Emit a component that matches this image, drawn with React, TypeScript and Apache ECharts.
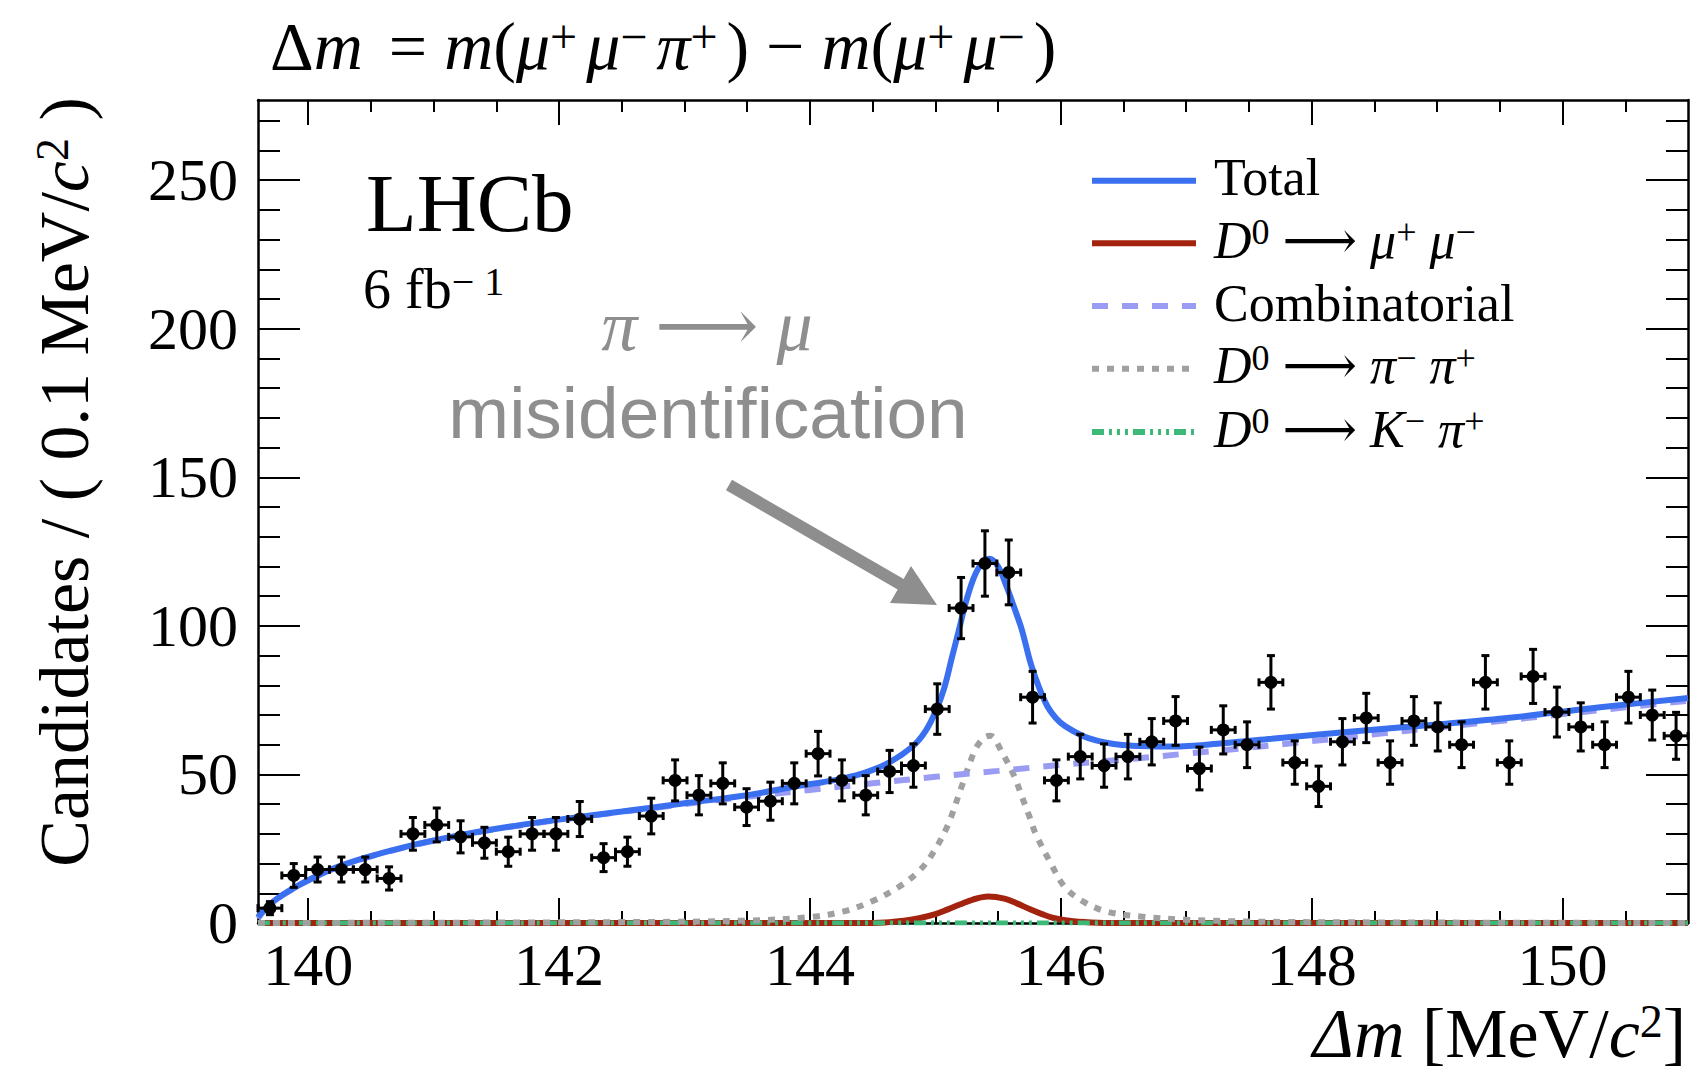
import React, { useEffect, useRef } from "react";
import * as echarts from "echarts";

// ---------- data ----------
const binCenters = [
  139.695, 139.885, 140.075, 140.265, 140.455, 140.645, 140.835, 141.025, 141.215, 141.405,
  141.595, 141.785, 141.975, 142.165, 142.355, 142.545, 142.735, 142.925, 143.115, 143.305,
  143.495, 143.685, 143.875, 144.065, 144.255, 144.445, 144.635, 144.825, 145.015, 145.205,
  145.395, 145.585, 145.775, 145.965, 146.155, 146.345, 146.535, 146.725, 146.915, 147.105,
  147.295, 147.485, 147.675, 147.865, 148.055, 148.245, 148.435, 148.625, 148.815, 149.005,
  149.195, 149.385, 149.575, 149.765, 149.955, 150.145, 150.335, 150.525, 150.715, 150.905,
];
const candidateCounts = [
  5, 16, 18, 18, 18, 15, 30, 33, 29, 27,
  24, 30, 30, 35, 22, 24, 36, 48, 43, 47,
  39, 41, 47, 57, 48, 43, 51, 53, 72, 106,
  121, 118, 76, 48, 56, 53, 56, 61, 68, 52,
  65, 60, 81, 54, 46, 61, 69, 54, 68, 66,
  60, 81, 54, 83, 71, 66, 60, 76, 70, 63,
];
const countErrors = [
  2.2, 4.0, 4.2, 4.2, 4.2, 3.9, 5.5, 5.7, 5.4, 5.2,
  4.9, 5.5, 5.5, 5.9, 4.7, 4.9, 6.0, 6.9, 6.6, 6.9,
  6.2, 6.4, 6.9, 7.5, 6.9, 6.6, 7.1, 7.3, 8.5, 10.3,
  11.0, 10.9, 8.7, 6.9, 7.5, 7.3, 7.5, 7.8, 8.2, 7.2,
  8.1, 7.7, 9.0, 7.3, 6.8, 7.8, 8.3, 7.3, 8.2, 8.1,
  7.7, 9.0, 7.3, 9.1, 8.4, 8.1, 7.7, 8.7, 8.4, 7.9,
];
const halfBinWidth = 0.095;

const totalCurve = [
  [139.6, 2.0], [139.65, 4.5], [139.7, 6.5], [139.8, 9.6], [139.9, 12.1], [140.0, 14.4],
  [140.2, 18.3], [140.45, 21.9], [140.8, 25.9], [141.2, 29.5], [141.6, 32.4], [142.0, 34.8],
  [142.5, 37.5], [143.0, 40.3], [143.5, 43.0], [143.86, 45.8], [144.1, 47.4], [144.26, 48.6],
  [144.44, 50.6], [144.63, 54.0], [144.82, 59.5], [144.92, 64.5], [145.0, 71.0], [145.07, 79.0],
  [145.13, 89.0], [145.19, 99.0], [145.24, 107.5], [145.3, 115.5], [145.36, 120.5], [145.43, 122.6],
  [145.5, 120.0], [145.57, 113.0], [145.63, 106.0], [145.69, 98.6], [145.77, 86.0], [145.88, 74.0],
  [145.96, 69.0], [146.04, 66.1], [146.22, 62.2], [146.49, 59.9], [146.89, 59.4], [147.29, 60.5],
  [147.68, 62.0], [148.3, 64.4], [149.0, 66.8], [149.54, 68.9], [150.3, 72.6], [151.0, 75.7],
];
const signalCurve = [
  [139.6, 0], [144.4, 0], [144.6, 0.2], [144.75, 0.8], [144.87, 1.6], [145.0, 3.0], [145.1, 4.6],
  [145.2, 6.3], [145.3, 7.9], [145.42, 8.9], [145.55, 8.2], [145.65, 6.6], [145.75, 4.7],
  [145.85, 3.0], [145.95, 1.6], [146.1, 0.6], [146.3, 0.1], [146.5, 0], [151.0, 0],
];
const combinatorialCurve = [
  [139.6, 1.5], [139.65, 4.2], [139.7, 6.2], [139.8, 9.5], [139.9, 12.0], [140.0, 14.3],
  [140.2, 18.2], [140.45, 21.8], [140.8, 25.8], [141.2, 29.4], [141.6, 32.3], [142.0, 34.7],
  [142.5, 37.4], [143.0, 40.0], [143.5, 42.5], [144.0, 44.8], [144.5, 47.0], [145.0, 49.2],
  [145.5, 51.2], [146.0, 53.2], [146.5, 55.0], [147.0, 57.0], [147.5, 59.0], [148.0, 61.2],
  [148.5, 63.5], [149.0, 65.8], [149.5, 68.0], [150.0, 70.3], [150.5, 72.6], [151.0, 74.8],
];
const pipiCurve = [
  [139.6, 0], [142.5, 0.3], [143.5, 0.8], [144.0, 2.0], [144.26, 3.8], [144.49, 7.2],
  [144.71, 12.2], [144.87, 17.5], [144.98, 23.5], [145.1, 33.0], [145.21, 46.0], [145.32, 58.5],
  [145.4, 62.7], [145.44, 63.0], [145.53, 57.5], [145.63, 49.3], [145.69, 42.5], [145.75, 35.8],
  [145.8, 30.0], [145.92, 20.1], [146.03, 12.2], [146.18, 7.2], [146.37, 3.8], [146.65, 2.1],
  [147.0, 1.1], [147.5, 0.5], [148.5, 0.2], [151.0, 0],
];
const kpiCurve = [
  [139.6, 0], [145.0, 0], [151.0, 0],
];

const xMajorTicks = [140, 142, 144, 146, 148, 150];
const xMinorTicks = [140.5, 141, 141.5, 142.5, 143, 143.5, 144.5, 145, 145.5, 146.5, 147, 147.5, 148.5, 149, 149.5, 150.5];
const yMajorTicks = [0, 50, 100, 150, 200, 250];
const yMinorTicks = [10, 20, 30, 40, 60, 70, 80, 90, 110, 120, 130, 140, 160, 170, 180, 190, 210, 220, 230, 240, 260, 270];

const X_MIN = 139.6;
const X_MAX = 151;
const Y_MIN = 0;
const Y_MAX = 277;

// ---------- styling ----------
const serif = "'Liberation Serif', 'DejaVu Serif', 'Times New Roman', serif";
const sans = "'Liberation Sans', Arial, Helvetica, sans-serif";
const BLUE = "#3a6ff0";
const RED = "#a3230f";
const LAVENDER = "#9a9cf4";
const GREY = "#a0a0a0";
const GREEN = "#3cb878";
const ANNOT = "#8e8e8e";

const mkRich = (size: number, color: string, supRatio = 0.7, supPadRight = 0, opPadLeft = 0) => ({
  n: { fontFamily: serif, fontSize: size, fill: color, lineHeight: size },
  o: { fontFamily: serif, fontSize: size, fill: color, lineHeight: size, padding: [0, 0, 0, opPadLeft] },
  i: { fontFamily: serif, fontSize: size, fontStyle: "italic", fill: color, lineHeight: size },
  s: {
    fontFamily: serif,
    fontSize: Math.round(size * supRatio),
    fill: color,
    lineHeight: Math.round(size * supRatio),
    verticalAlign: "top",
    padding: [0, supPadRight, 0, 0],
  },
});

function xAx(position: string, ticks: number[], len: number, showLine: boolean, showLabel: boolean) {
  return {
    type: "value",
    min: X_MIN,
    max: X_MAX,
    position,
    axisLine: { show: showLine, onZero: false, lineStyle: { color: "#000", width: 2.5 } },
    axisTick: { show: true, inside: true, length: len, customValues: ticks, lineStyle: { color: "#000", width: 2 } },
    axisLabel: showLabel
      ? {
          show: true,
          customValues: ticks,
          margin: 12,
          fontFamily: serif,
          fontSize: 60,
          lineHeight: 60,
          color: "#000",
        }
      : { show: false },
    splitLine: { show: false },
    minorTick: { show: false },
  };
}

function yAx(position: string, ticks: number[], len: number, showLine: boolean, showLabel: boolean) {
  return {
    type: "value",
    min: Y_MIN,
    max: Y_MAX,
    position,
    axisLine: { show: showLine, onZero: false, lineStyle: { color: "#000", width: 2.5 } },
    axisTick: { show: true, inside: true, length: len, customValues: ticks, lineStyle: { color: "#000", width: 2 } },
    axisLabel: showLabel
      ? {
          show: true,
          customValues: ticks,
          margin: 20,
          fontFamily: serif,
          fontSize: 60,
          lineHeight: 60,
          color: "#000",
        }
      : { show: false },
    splitLine: { show: false },
    minorTick: { show: false },
  };
}

function curveSeries(name: string, data: number[][], color: string, width: number, type: any, z: number) {
  return {
    type: "line",
    name,
    data,
    xAxisIndex: 0,
    yAxisIndex: 0,
    smooth: 0.35,
    symbol: "none",
    showSymbol: false,
    silent: true,
    lineStyle: { color, width, type },
    z,
  };
}

const legendY = [180.7, 243.3, 306, 368.7, 432];
const legendTexts = [
  "{n|Total}",
  "{i|D}{s|0}{n| ⟶ }{i|μ}{s|+}{n| }{i|μ}{s|−}",
  "{n|Combinatorial}",
  "{i|D}{s|0}{n| ⟶ }{i|π}{s|−}{n| }{i|π}{s|+}",
  "{i|D}{s|0}{n| ⟶ }{i|K}{s|−}{n| }{i|π}{s|+}",
];
const legendStyles = [
  { stroke: BLUE, lineWidth: 6 },
  { stroke: RED, lineWidth: 6 },
  { stroke: LAVENDER, lineWidth: 6, lineDash: [16, 14] },
  { stroke: GREY, lineWidth: 6, lineDash: [7, 8] },
  { stroke: GREEN, lineWidth: 6, lineDash: [12, 5, 3, 5, 3, 5, 3, 5] },
];

export default function App() {
  const ref = useRef<HTMLDivElement>(null);

  useEffect(() => {
    if (!ref.current) return;
    const chart = echarts.init(ref.current, null, { renderer: "svg" });

    const graphic: any[] = [];
    // title
    graphic.push({
      type: "text",
      x: 270,
      y: 46,
      style: {
        text: "{n|Δ}{i|m}{o| = }{i|m}{n|(}{i|μ}{s|+}{i|μ}{s|−}{i|π}{s|+}{n|) − }{i|m}{n|(}{i|μ}{s|+}{i|μ}{s|−}{n|)}",
        rich: mkRich(68, "#000", 0.7, 9, 9),
        align: "left",
        verticalAlign: "middle",
      },
    });
    // LHCb label
    graphic.push({
      type: "text",
      x: 366,
      y: 203,
      style: { text: "{n|LHCb}", rich: mkRich(83, "#000"), align: "left", verticalAlign: "middle" },
    });
    graphic.push({
      type: "text",
      x: 363,
      y: 289,
      style: { text: "{n|6 fb}{s|− 1}", rich: mkRich(56, "#000", 0.72), align: "left", verticalAlign: "middle" },
    });
    // annotation
    graphic.push({
      type: "text",
      x: 707,
      y: 326,
      style: { text: "{i|π}{n| ⟶ }{i|μ}", rich: mkRich(72, ANNOT), align: "center", verticalAlign: "middle" },
    });
    graphic.push({
      type: "text",
      x: 708,
      y: 412,
      style: {
        text: "misidentification",
        fontFamily: sans,
        fontSize: 73,
        fill: ANNOT,
        align: "center",
        verticalAlign: "middle",
      },
    });
    graphic.push({
      type: "line",
      shape: { x1: 729, y1: 485, x2: 902, y2: 585 },
      style: { stroke: ANNOT, lineWidth: 12 },
    });
    graphic.push({
      type: "polygon",
      shape: { points: [[937, 605], [911, 566], [890, 603]] },
      style: { fill: ANNOT },
    });
    // axis titles
    graphic.push({
      type: "text",
      x: 64,
      y: 482,
      rotation: Math.PI / 2,
      style: {
        text: "{n|Candidates / ( 0.1 MeV/}{i|c}{s|2}{n| )}",
        rich: mkRich(70, "#000", 0.65),
        align: "center",
        verticalAlign: "middle",
      },
    });
    graphic.push({
      type: "text",
      x: 1686,
      y: 1033,
      style: {
        text: "{i|Δm}{n| [MeV/}{i|c}{s|2}{n|]}",
        rich: mkRich(70, "#000", 0.65),
        align: "right",
        verticalAlign: "middle",
      },
    });
    // legend
    legendY.forEach((y, k) => {
      graphic.push({
        type: "line",
        shape: { x1: 1092, y1: y, x2: 1196, y2: y },
        style: legendStyles[k],
      });
      graphic.push({
        type: "text",
        x: 1214,
        y: y - 3,
        style: { text: legendTexts[k], rich: mkRich(52, "#000"), align: "left", verticalAlign: "middle" },
      });
    });

    const option: any = {
      animation: false,
      backgroundColor: "#ffffff",
      textStyle: { fontFamily: serif },
      grid: { left: 258, top: 100, right: 12, bottom: 151, containLabel: false, outerBoundsMode: "none" },
      xAxis: [
        xAx("bottom", xMajorTicks, 25, true, true),
        xAx("bottom", xMinorTicks, 12, false, false),
        xAx("top", xMajorTicks, 25, true, false),
        xAx("top", xMinorTicks, 12, false, false),
      ],
      yAxis: [
        yAx("left", yMajorTicks, 42, true, true),
        yAx("left", yMinorTicks, 22, false, false),
        yAx("right", yMajorTicks, 42, true, false),
        yAx("right", yMinorTicks, 22, false, false),
      ],
      series: [
        curveSeries("D0 → μ+ μ−", signalCurve, RED, 6, "solid", 3),
        curveSeries("D0 → K− π+", kpiCurve, GREEN, 5, [12, 5, 3, 5, 3, 5, 3, 5], 4),
        curveSeries("D0 → π− π+", pipiCurve, GREY, 6, [7, 8], 4),
        curveSeries("Combinatorial", combinatorialCurve, LAVENDER, 6, [16, 14], 5),
        curveSeries("Total", totalCurve, BLUE, 6, "solid", 6),
        {
          type: "custom",
          name: "Data",
          xAxisIndex: 0,
          yAxisIndex: 0,
          z: 10,
          silent: true,
          data: binCenters.map((x, i) => [x, candidateCounts[i], countErrors[i]]),
          encode: { x: 0, y: 1 },
          renderItem: (_params: any, api: any) => {
            const x = api.value(0);
            const y = api.value(1);
            const e = api.value(2);
            const c = api.coord([x, y]);
            const top = api.coord([x, y + e]);
            const bot = api.coord([x, y - e]);
            const left = api.coord([x - halfBinWidth, y]);
            const right = api.coord([x + halfBinWidth, y]);
            const st = { stroke: "#000", lineWidth: 3 };
            const cap = 4;
            return {
              type: "group",
              children: [
                { type: "line", shape: { x1: c[0], y1: top[1], x2: c[0], y2: bot[1] }, style: st },
                { type: "line", shape: { x1: left[0], y1: c[1], x2: right[0], y2: c[1] }, style: st },
                { type: "line", shape: { x1: c[0] - cap, y1: top[1], x2: c[0] + cap, y2: top[1] }, style: st },
                { type: "line", shape: { x1: c[0] - cap, y1: bot[1], x2: c[0] + cap, y2: bot[1] }, style: st },
                { type: "line", shape: { x1: left[0], y1: c[1] - cap, x2: left[0], y2: c[1] + cap }, style: st },
                { type: "line", shape: { x1: right[0], y1: c[1] - cap, x2: right[0], y2: c[1] + cap }, style: st },
                { type: "circle", shape: { cx: c[0], cy: c[1], r: 6.5 }, style: { fill: "#000" } },
              ],
            };
          },
        },
      ],
      graphic,
    };

    chart.setOption(option);
    return () => {
      chart.dispose();
    };
  }, []);

  return (
    <div
      ref={ref}
      style={{ position: "absolute", left: 0, top: 0, width: 1700, height: 1074, background: "#fff" }}
    />
  );
}
